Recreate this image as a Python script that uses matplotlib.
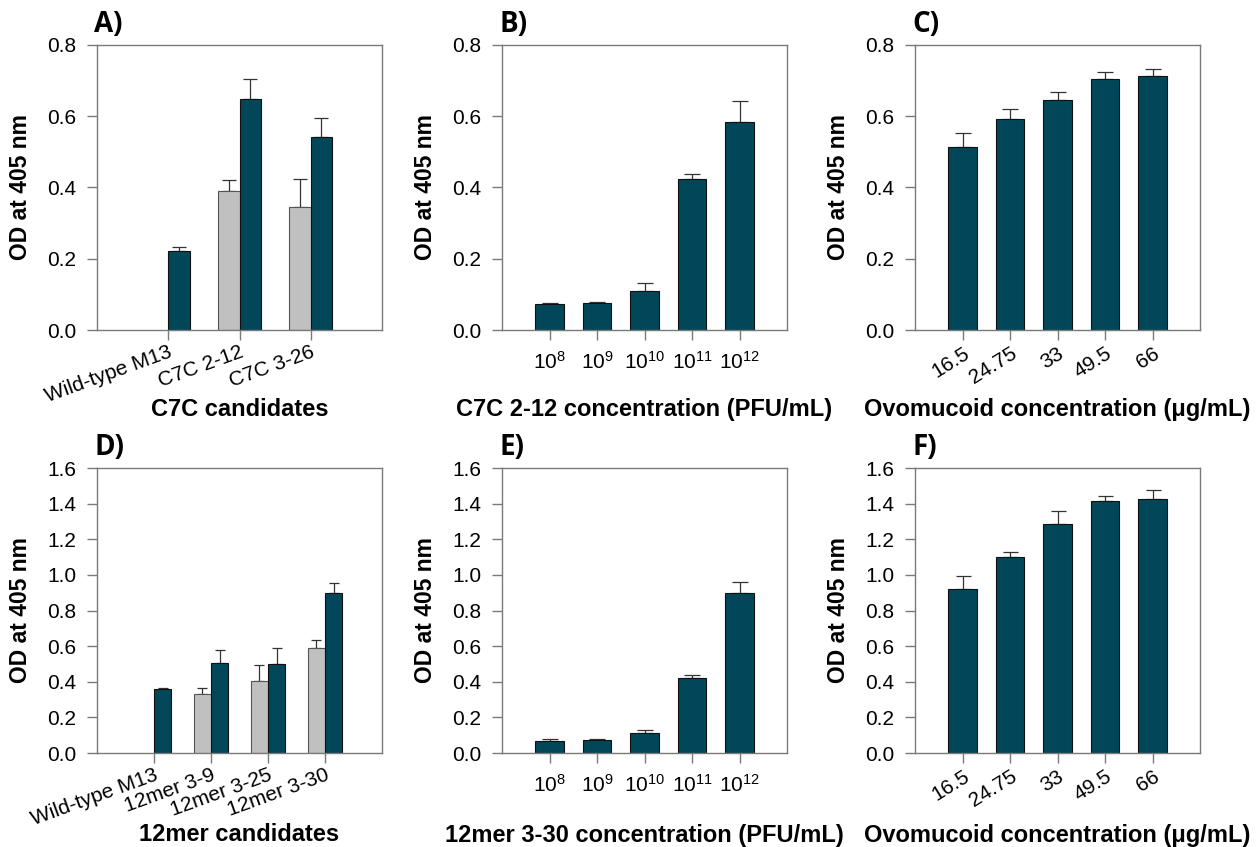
import numpy as np
import matplotlib
matplotlib.use("Agg")
import matplotlib.pyplot as plt
from matplotlib.ticker import FormatStrFormatter

plt.rcParams['font.family'] = ['Liberation Sans', 'DejaVu Sans']
plt.rcParams['mathtext.fontset'] = 'custom'
plt.rcParams['mathtext.rm'] = 'Liberation Sans'
plt.rcParams['mathtext.it'] = 'Liberation Sans'

## Data
# A) C7C candidates
a_labels = ['Wild-type M13', 'C7C 2-12', 'C7C 3-26']
a_grey = [np.nan, 0.391, 0.344]
a_grey_err = [np.nan, 0.029, 0.081]
a_dark = [0.223, 0.649, 0.541]
a_dark_err = [0.011, 0.055, 0.055]

# B) C7C 2-12 titration
conc_labels = ['10$^{8}$', '10$^{9}$', '10$^{10}$', '10$^{11}$', '10$^{12}$']
b_vals = [0.072, 0.076, 0.109, 0.424, 0.583]
b_err = [0.005, 0.003, 0.022, 0.014, 0.061]

# C) ovomucoid titration
ovo_labels = ['16.5', '24.75', '33', '49.5', '66']
c_vals = [0.515, 0.593, 0.647, 0.705, 0.713]
c_err = [0.037, 0.026, 0.022, 0.018, 0.019]

# D) 12mer candidates
d_labels = ['Wild-type M13', '12mer 3-9', '12mer 3-25', '12mer 3-30']
d_grey = [np.nan, 0.334, 0.406, 0.592]
d_grey_err = [np.nan, 0.030, 0.086, 0.045]
d_dark = [0.357, 0.505, 0.499, 0.896]
d_dark_err = [0.009, 0.073, 0.093, 0.060]

# E) 12mer 3-30 titration
e_vals = [0.069, 0.073, 0.110, 0.423, 0.896]
e_err = [0.007, 0.005, 0.020, 0.016, 0.062]

# F) ovomucoid titration
f_vals = [0.920, 1.100, 1.286, 1.416, 1.425]
f_err = [0.071, 0.026, 0.075, 0.024, 0.051]

DARK = '#02465a'
GREY = '#c0c0c0'
SPINE = '#7a7a7a'
ERRC = '#333333'

fig = plt.figure(figsize=(12.56, 8.47), dpi=100)
W, H = 1256.0, 847.0

def make_ax(left, top, letter, ymax):
	ax = fig.add_axes([left / W, (H - top - 285) / H, 285 / W, 285 / H])
	for s in ax.spines.values():
		s.set_color(SPINE)
		s.set_linewidth(1.0)
	ax.tick_params(axis='both', direction='out', length=7, width=1, color=SPINE, labelsize=15, pad=8)
	ax.set_ylim(0, ymax)
	ax.set_yticks(np.arange(0, ymax + 0.01, 0.2))
	ax.yaxis.set_major_formatter(FormatStrFormatter('%.1f'))
	ax.set_ylabel('OD at 405 nm', fontsize=16.5, fontweight='bold', va='center')
	ax.yaxis.set_label_coords(-0.27, 0.5)
	ax.text(-0.01, 1.02, letter, transform=ax.transAxes, fontsize=20, fontweight='bold',
		family=['Open Sans', 'DejaVu Sans'], ha='left', va='bottom')
	return ax

def err_bars(ax, x, vals, errs, capsize):
	ax.errorbar(x, vals, yerr=[np.zeros(len(vals)), errs], fmt='none', ecolor=ERRC,
		elinewidth=0.9, capsize=capsize, capthick=0.9, zorder=1)

def paired(ax, labels, grey, grey_err, dark, dark_err, width, capsize):
	x = np.arange(len(labels))
	grey = np.array(grey)
	m = ~np.isnan(grey)
	err_bars(ax, x[m] - width / 2, grey[m], np.array(grey_err)[m], capsize)
	err_bars(ax, x + width / 2, dark, dark_err, capsize)
	ax.bar(x[m] - width / 2, grey[m], width, color=GREY, edgecolor='#555555', linewidth=0.8, zorder=2)
	ax.bar(x + width / 2, dark, width, color=DARK, edgecolor='#111111', linewidth=0.8, zorder=2)
	ax.set_xlim(-1, len(labels))
	ax.set_xticks(x)
	ax.set_xticklabels(labels, rotation=20, ha='right', va='top', rotation_mode='anchor')
	ax.tick_params(axis='x', pad=2)

def single(ax, labels, vals, errs, capsize, rot):
	x = np.arange(len(labels))
	err_bars(ax, x, vals, errs, capsize)
	ax.bar(x, vals, 0.61, color=DARK, edgecolor='#111111', linewidth=0.8, zorder=2)
	ax.set_xlim(-1, len(labels))
	ax.set_xticks(x)
	if rot:
		ax.set_xticklabels(labels, rotation=rot, ha='right', va='top', rotation_mode='anchor')
		ax.tick_params(axis='x', pad=3)
	else:
		ax.set_xticklabels(labels)

def xlab(ax, text, y):
	ax.set_xlabel(text, fontsize=17, fontweight='bold', va='center')
	ax.xaxis.set_label_coords(0.5, y)

# top row
axA = make_ax(97, 45, 'A)', 0.8)
paired(axA, a_labels, a_grey, a_grey_err, a_dark, a_dark_err, 0.3, 5)
xlab(axA, 'C7C candidates', -0.28)

axB = make_ax(502, 45, 'B)', 0.8)
single(axB, conc_labels, b_vals, b_err, 6, 0)
xlab(axB, 'C7C 2-12 concentration (PFU/mL)', -0.28)

axC = make_ax(915, 45, 'C)', 0.8)
single(axC, ovo_labels, c_vals, c_err, 5.6, 32)
xlab(axC, 'Ovomucoid concentration (\u03bcg/mL)', -0.28)

# bottom row
axD = make_ax(97, 468, 'D)', 1.6)
paired(axD, d_labels, d_grey, d_grey_err, d_dark, d_dark_err, 0.3, 3.6)
xlab(axD, '12mer candidates', -0.285)

axE = make_ax(502, 468, 'E)', 1.6)
single(axE, conc_labels, e_vals, e_err, 6, 0)
xlab(axE, '12mer 3-30 concentration (PFU/mL)', -0.29)

axF = make_ax(915, 468, 'F)', 1.6)
single(axF, ovo_labels, f_vals, f_err, 5.4, 32)
xlab(axF, 'Ovomucoid concentration (\u03bcg/mL)', -0.29)

fig.savefig('out.png', dpi=100)
